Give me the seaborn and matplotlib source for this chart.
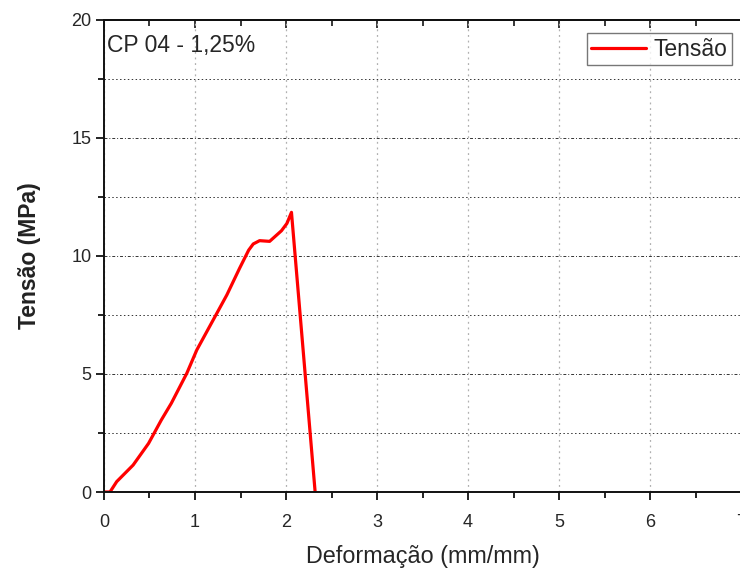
import numpy as np
import pandas as pd
import matplotlib
matplotlib.use("Agg")
import matplotlib.pyplot as plt
import seaborn as sns
from matplotlib.ticker import MultipleLocator, NullFormatter

# Curva tensão x deformação
deformacao = [0.0, 0.066, 0.14, 0.32, 0.49, 0.63, 0.74, 0.91, 1.02, 1.20,
              1.35, 1.49, 1.59, 1.64, 1.71, 1.82, 1.95, 2.01, 2.06, 2.32]
tensao = [0.0, 0.0, 0.44, 1.14, 2.06, 3.05, 3.76, 5.03, 6.02, 7.29,
          8.35, 9.48, 10.25, 10.51, 10.65, 10.62, 11.07, 11.38, 11.85, 0.0]

titulo = "CP 04 - 1,25%"
serie = "Tensão"

sns.set_style("ticks")
plt.rcParams['font.family'] = ['Liberation Sans', 'DejaVu Sans']

df = pd.DataFrame({"Deformação": deformacao, "Tensão": tensao})

fig = plt.figure(figsize=(7.4, 5.68), dpi=100)
ax = fig.add_axes([0.1405, 0.1338, 0.861, 0.831])

sns.lineplot(data=df, x="Deformação", y="Tensão", ax=ax, color="#ff0000",
             linewidth=2.3, sort=False, label=serie)

ax.set_xlim(0, 7)
ax.set_ylim(0, 20)
ax.xaxis.set_major_locator(MultipleLocator(1))
ax.xaxis.set_minor_locator(MultipleLocator(0.5))
ax.yaxis.set_major_locator(MultipleLocator(5))
ax.yaxis.set_minor_locator(MultipleLocator(2.5))

# grade: verticais cinza pontilhadas, horizontais traço-ponto / pontilhadas
ax.grid(axis="x", which="major", color="#b0b0b0", linestyle=(0, (1.5, 3)), linewidth=0.9)
ax.grid(axis="y", which="major", color="#333333", linestyle=(0, (3, 2, 1, 2)), linewidth=0.7)
ax.grid(axis="y", which="minor", color="#333333", linestyle=(0, (1.5, 2.5)), linewidth=0.7)

for s in ax.spines.values():
    s.set_linewidth(1.4)
    s.set_color("#111111")

ax.tick_params(axis="both", which="both", labelsize=13, width=1.3, color="#111111")
ax.tick_params(axis="x", which="both", direction="out")
ax.tick_params(axis="x", which="major", length=6, pad=10)
ax.tick_params(axis="x", which="minor", length=4)
ax.tick_params(axis="y", which="major", length=6, direction="out", pad=3)
ax.tick_params(axis="y", which="minor", length=4, direction="out")

# ticks do eixo superior apontando para dentro
top = ax.secondary_xaxis("top")
top.xaxis.set_major_locator(MultipleLocator(1))
top.xaxis.set_minor_locator(MultipleLocator(0.5))
top.xaxis.set_major_formatter(NullFormatter())
top.tick_params(which="major", direction="in", length=6, width=1.3)
top.tick_params(which="minor", direction="in", length=4, width=1.3)
top.spines["top"].set_linewidth(1.4)

ax.set_xlabel("Deformação (mm/mm)", fontsize=16.8, labelpad=10)
ax.set_ylabel("Tensão (MPa)", fontsize=16.5, fontweight="bold", labelpad=22, color="#222222")

ax.text(0.005, 0.97, titulo, transform=ax.transAxes, fontsize=16.5,
        ha="left", va="top")

leg = ax.legend(loc="upper right", fontsize=16.5, frameon=True, fancybox=False,
                edgecolor="#555555", handlelength=2.4, borderpad=0.2,
                bbox_to_anchor=(0.985, 0.972), handletextpad=0.3, borderaxespad=0)
leg.get_frame().set_linewidth(1.0)

fig.savefig("out.png", dpi=100)
